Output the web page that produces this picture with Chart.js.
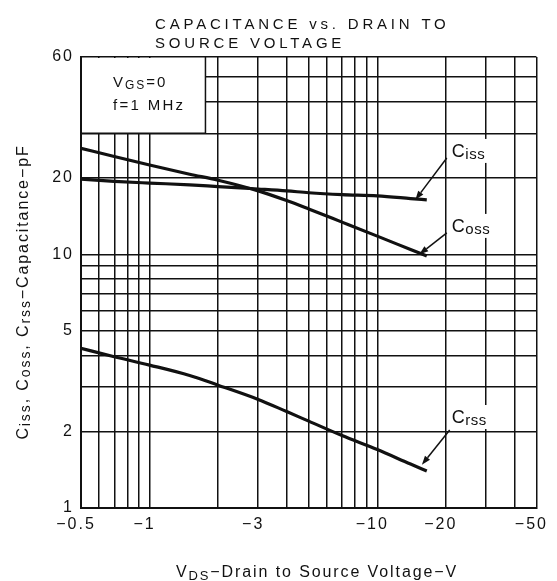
<!DOCTYPE html>
<html>
<head>
<meta charset="utf-8">
<script src="https://cdn.jsdelivr.net/npm/chart.js@4/dist/chart.umd.min.js"></script>
<style>
  html, body { margin: 0; padding: 0; background: #fff; }
  canvas { display: block; }
</style>
</head>
<body>
<canvas id="capChart" width="557" height="581"></canvas>
<script>
/* ======================================================
   Data
=========================================================*/
const vds  = [0.5, 0.7, 1, 1.5, 2, 3, 4, 5, 7, 10, 14, 16.5];
const ciss = [19.8, 19.4, 19.1, 18.8, 18.5, 18.1, 17.8, 17.5, 17.2, 17.0, 16.6, 16.4];
const coss = [26.2, 24.3, 22.5, 20.7, 19.6, 17.8, 16.3, 15.1, 13.4, 11.8, 10.45, 9.85];
const crss = [4.26, 3.95, 3.66, 3.33, 3.05, 2.68, 2.40, 2.20, 1.93, 1.70, 1.49, 1.40];

const xGrid   = [0.5, 0.6, 0.7, 0.8, 0.9, 1, 2, 3, 4, 5, 6, 7, 8, 9, 10, 20, 30, 40, 50];
const xLabels = [0.5, 1, 3, 10, 20, 50];
const yGrid   = [1, 2, 3, 4, 5, 6, 7, 8, 9, 10, 20, 30, 40, 50, 60];
const yLabels = [1, 2, 5, 10, 20, 60];

// callouts: subscript, arrow tip (on curve), arrow tail (at label)
const calloutSubs = ["iss", "oss", "rss"];
const calloutTips = [[14.7, 16.4], [15.3, 10.0], [15.7, 1.48]];
const calloutTails = [[20.2, 24.0], [20.2, 12.15], [20.8, 2.03]];

// conditions box corner (upper left is the plot corner)
const condBoxCorner = [1.76, 30];

const FONT = "'Liberation Sans', Arial, Helvetica, sans-serif";
const INK = "#111";

/* ======================================================
   Helper: draw text made of normal + subscript runs
=========================================================*/
function richWidth(ctx, parts, size, subSize, spacing) {
  let w = 0;
  ctx.letterSpacing = spacing + "px";
  parts.forEach((p) => {
    ctx.font = (p.sub ? subSize : size) + "px " + FONT;
    w += ctx.measureText(p.t).width;
  });
  return w;
}

function drawRich(ctx, parts, x, y, size, subSize, spacing, subDrop) {
  ctx.letterSpacing = spacing + "px";
  ctx.textAlign = "left";
  ctx.textBaseline = "alphabetic";
  let cx = x;
  parts.forEach((p) => {
    ctx.font = (p.sub ? subSize : size) + "px " + FONT;
    ctx.fillText(p.t, cx, p.sub ? y + subDrop : y);
    cx += ctx.measureText(p.t).width;
  });
  return cx - x;
}

function arrow(ctx, x1, y1, x2, y2) {
  const ang = Math.atan2(y2 - y1, x2 - x1);
  const len = 9, half = 3.2;
  ctx.beginPath();
  ctx.moveTo(x1, y1);
  ctx.lineTo(x2 - Math.cos(ang) * len, y2 - Math.sin(ang) * len);
  ctx.stroke();
  ctx.beginPath();
  ctx.moveTo(x2, y2);
  ctx.lineTo(x2 - Math.cos(ang) * len - Math.sin(ang) * half, y2 - Math.sin(ang) * len + Math.cos(ang) * half);
  ctx.lineTo(x2 - Math.cos(ang) * len + Math.sin(ang) * half, y2 - Math.sin(ang) * len - Math.cos(ang) * half);
  ctx.closePath();
  ctx.fill();
}

/* ======================================================
   Plugin: titles, conditions box, curve callouts
=========================================================*/
const decor = {
  id: "decor",
  beforeDraw(chart) {
    chart.ctx.letterSpacing = "2px";
  },
  afterDraw(chart) {
    const ctx = chart.ctx;
    const xs = chart.scales.x, ys = chart.scales.y;
    const area = chart.chartArea;
    ctx.save();
    ctx.fillStyle = INK;
    ctx.strokeStyle = INK;

    // chart title
    ctx.font = "15px " + FONT;
    ctx.letterSpacing = "3.8px";
    ctx.textAlign = "left";
    ctx.textBaseline = "alphabetic";
    ctx.fillText("CAPACITANCE vs. DRAIN TO", 155, 29);
    ctx.fillText("SOURCE VOLTAGE", 155, 48);

    // conditions box
    const bx = xs.getPixelForValue(condBoxCorner[0]);
    const by = ys.getPixelForValue(condBoxCorner[1]);
    ctx.fillStyle = "#fff";
    ctx.fillRect(area.left + 1, area.top + 1, bx - area.left - 1, by - area.top - 1);
    ctx.lineWidth = 1.5;
    ctx.beginPath();
    ctx.moveTo(bx, area.top);
    ctx.lineTo(bx, by);
    ctx.lineTo(area.left, by);
    ctx.stroke();
    ctx.fillStyle = INK;
    drawRich(ctx, [{ t: "V" }, { t: "GS", sub: true }, { t: "=0" }], area.left + 32, area.top + 30, 15, 12, 2, 2);
    drawRich(ctx, [{ t: "f=1 MHz" }], area.left + 32, area.top + 53, 15, 12, 2.3, 2);

    // callouts
    calloutSubs.forEach((sub, i) => {
      const tx = xs.getPixelForValue(calloutTips[i][0]);
      const ty = ys.getPixelForValue(calloutTips[i][1]);
      const sx = xs.getPixelForValue(calloutTails[i][0]);
      const sy = ys.getPixelForValue(calloutTails[i][1]);
      const parts = [{ t: "C" }, { t: sub, sub: true }];
      const lx = sx + (i === 2 ? 2 : 5);
      const ly = sy - (i === 2 ? 7 : 1);
      const w = richWidth(ctx, parts, 18, 15, 0.5);
      ctx.fillStyle = "#fff";
      ctx.fillRect(lx - 4, ly - 18, w + 9, 24);
      ctx.fillStyle = INK;
      drawRich(ctx, parts, lx, ly, 18, 15, 0.5, 2);
      ctx.lineWidth = 1.5;
      arrow(ctx, sx, sy, tx, ty);
    });

    // x axis title
    const xParts = [{ t: "V" }, { t: "DS", sub: true }, { t: "\u2212Drain to Source Voltage\u2212V" }];
    const xw = richWidth(ctx, xParts, 16, 13, 1.9);
    drawRich(ctx, xParts, 317 - xw / 2, 577, 16, 13, 1.9, 3);

    // y axis title (rotated)
    const yParts = [
      { t: "C" }, { t: "iss", sub: true }, { t: ", C" }, { t: "oss", sub: true },
      { t: ", C" }, { t: "rss", sub: true }, { t: "\u2212Capacitance\u2212pF" }
    ];
    const yw = richWidth(ctx, yParts, 16, 14, 1.9);
    ctx.translate(28, 292);
    ctx.rotate(-Math.PI / 2);
    drawRich(ctx, yParts, -yw / 2, 0, 16, 14, 1.9, 2);
    ctx.restore();
  }
};

/* ======================================================
   Chart
=========================================================*/
function series(ys) {
  return vds.map((x, i) => ({ x: x, y: ys[i] }));
}

function lineSet(ys) {
  return {
    data: series(ys),
    borderColor: INK,
    borderWidth: 3.2,
    pointRadius: 0,
    cubicInterpolationMode: "monotone",
    fill: false
  };
}

new Chart(document.getElementById("capChart"), {
  type: "line",
  data: {
    datasets: [lineSet(ciss), lineSet(coss), lineSet(crss)]
  },
  options: {
    responsive: false,
    animation: false,
    layout: { padding: { top: 57, right: 14, left: 0, bottom: 0 } },
    plugins: {
      legend: { display: false },
      tooltip: { enabled: false },
      title: { display: false }
    },
    scales: {
      x: {
        type: "logarithmic",
        min: 0.5,
        max: 50,
        afterBuildTicks: (s) => { s.ticks = xGrid.map((v) => ({ value: v })); },
        afterFit: (s) => { s.height = 73; },
        grid: { color: INK, lineWidth: 1.5, drawTicks: false },
        border: { color: INK, width: 2 },
        ticks: {
          autoSkip: false,
          maxRotation: 0,
          padding: 7,
          labelOffset: -5,
          color: INK,
          font: { family: FONT, size: 16 },
          callback: (v) => (xLabels.includes(v) ? "\u2212" + v : "")
        }
      },
      y: {
        type: "logarithmic",
        min: 1,
        max: 60,
        afterBuildTicks: (s) => { s.ticks = yGrid.map((v) => ({ value: v })); },
        afterFit: (s) => { s.width = 81; },
        grid: { color: INK, lineWidth: 1.5, drawTicks: false },
        border: { color: INK, width: 2 },
        ticks: {
          autoSkip: false,
          padding: 7,
          color: INK,
          font: { family: FONT, size: 16 },
          callback: (v) => (yLabels.includes(v) ? String(v) : "")
        }
      }
    }
  },
  plugins: [decor]
});
</script>
</body>
</html>
